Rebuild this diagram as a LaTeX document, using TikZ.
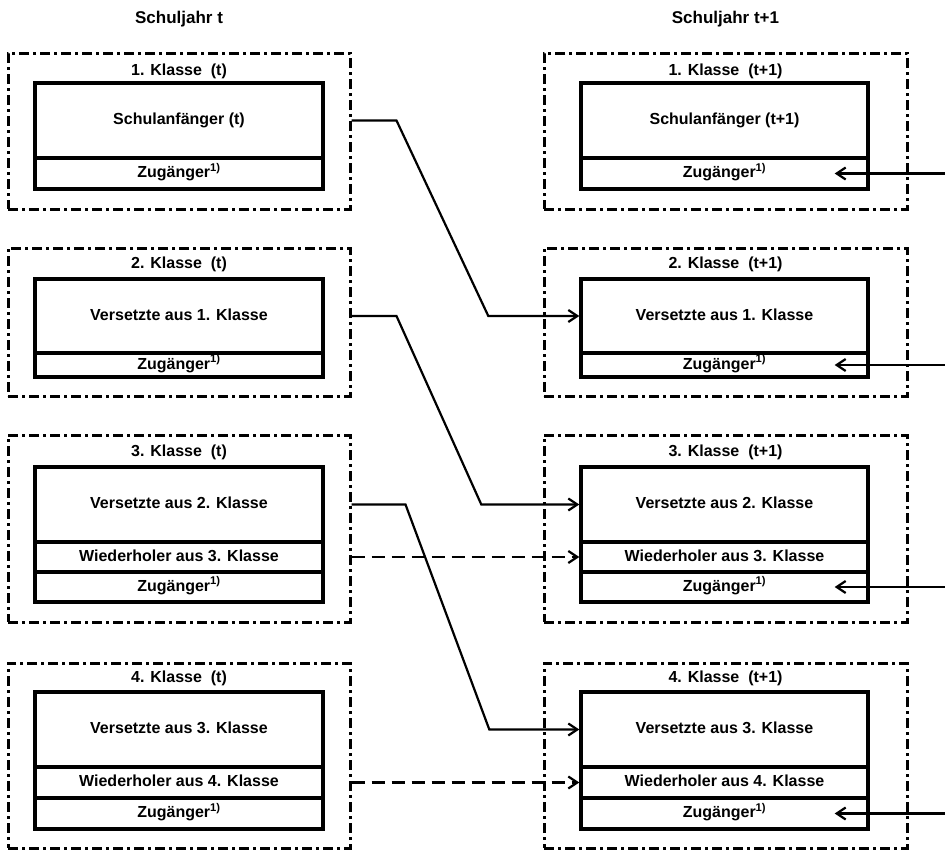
\documentclass[tikz,border=0pt]{standalone}
\usepackage{fontspec}
\setmainfont{Liberation Sans}
\usetikzlibrary{arrows.meta}

\tikzset{
  klasse/.style={draw, line width=3pt, dash pattern=on 10pt off 4pt on 3pt off 4pt, inner sep=0pt},
  teil/.style={draw, line width=3.4pt, inner sep=0pt, text height=11pt, text depth=3pt,
    font=\bfseries\fontsize{16}{19}\selectfont},
  titel/.style={font=\bfseries\fontsize{16}{19}\selectfont},
  kopf/.style={font=\bfseries\fontsize{17}{20}\selectfont},
  conn/.style={line width=2.2pt, -{Straight Barb[length=9pt,width=12pt,line width=2.2pt]}},
  wdh/.style={conn, dash pattern=on 13pt off 7pt}
}

\begin{document}
\begin{tikzpicture}[x=1pt, y=-1pt]
\useasboundingbox (0,0) rectangle (945,849);

\node[kopf] (St) at (179,19) {Schuljahr t};
\node[kopf] (Sn) at (725.5,19) {Schuljahr t+1};

\node[klasse, minimum width=342pt, minimum height=156pt] (O1t) at (179,131) {};
\node[klasse, minimum width=342pt, minimum height=148pt] (O2t) at (179,322) {};
\node[klasse, minimum width=342pt, minimum height=187pt] (O3t) at (179,528.5) {};
\node[klasse, minimum width=342pt, minimum height=185pt] (O4t) at (179,755.5) {};
\node[klasse, minimum width=363pt, minimum height=156pt] (O1n) at (725.5,131) {};
\node[klasse, minimum width=363pt, minimum height=148pt] (O2n) at (725.5,322) {};
\node[klasse, minimum width=363pt, minimum height=187pt] (O3n) at (725.5,528.5) {};
\node[klasse, minimum width=363pt, minimum height=185pt] (O4n) at (725.5,755.5) {};

\node[titel] (K1t) at (179,71) {1. Klasse~~(t)};
\node[titel] (K2t) at (179,264) {2. Klasse~~(t)};
\node[titel] (K3t) at (179,452) {3. Klasse~~(t)};
\node[titel] (K4t) at (179,678) {4. Klasse~~(t)};
\node[titel] (K1n) at (725.5,71) {1. Klasse~~(t+1)};
\node[titel] (K2n) at (725.5,264) {2. Klasse~~(t+1)};
\node[titel] (K3n) at (725.5,452) {3. Klasse~~(t+1)};
\node[titel] (K4n) at (725.5,678) {4. Klasse~~(t+1)};

\node[teil, minimum width=288pt, minimum height=75pt] (M1t) at (179,120.5) {Schulanfänger (t)};
\node[teil, minimum width=288pt, minimum height=31pt] (Z1t) at (179,173.5) {Zugänger\textsuperscript{1)}};
\node[teil, minimum width=288pt, minimum height=74pt] (M2t) at (179,316) {Versetzte aus 1. Klasse};
\node[teil, minimum width=288pt, minimum height=24pt] (Z2t) at (179,365) {Zugänger\textsuperscript{1)}};
\node[teil, minimum width=288pt, minimum height=75pt] (M3t) at (179,504.5) {Versetzte aus 2. Klasse};
\node[teil, minimum width=288pt, minimum height=30pt] (W3t) at (179,557) {Wiederholer aus 3. Klasse};
\node[teil, minimum width=288pt, minimum height=30pt] (Z3t) at (179,587) {Zugänger\textsuperscript{1)}};
\node[teil, minimum width=288pt, minimum height=75pt] (M4t) at (179,729.5) {Versetzte aus 3. Klasse};
\node[teil, minimum width=288pt, minimum height=31pt] (W4t) at (179,782.5) {Wiederholer aus 4. Klasse};
\node[teil, minimum width=288pt, minimum height=31pt] (Z4t) at (179,813.5) {Zugänger\textsuperscript{1)}};

\node[teil, minimum width=287pt, minimum height=75pt] (M1n) at (724.5,120.5) {Schulanfänger (t+1)};
\node[teil, minimum width=287pt, minimum height=31pt] (Z1n) at (724.5,173.5) {Zugänger\textsuperscript{1)}};
\node[teil, minimum width=287pt, minimum height=74pt] (M2n) at (724.5,316) {Versetzte aus 1. Klasse};
\node[teil, minimum width=287pt, minimum height=24pt] (Z2n) at (724.5,365) {Zugänger\textsuperscript{1)}};
\node[teil, minimum width=287pt, minimum height=75pt] (M3n) at (724.5,504.5) {Versetzte aus 2. Klasse};
\node[teil, minimum width=287pt, minimum height=30pt] (W3n) at (724.5,557) {Wiederholer aus 3. Klasse};
\node[teil, minimum width=287pt, minimum height=30pt] (Z3n) at (724.5,587) {Zugänger\textsuperscript{1)}};
\node[teil, minimum width=287pt, minimum height=75pt] (M4n) at (724.5,729.5) {Versetzte aus 3. Klasse};
\node[teil, minimum width=287pt, minimum height=31pt] (W4n) at (724.5,782.5) {Wiederholer aus 4. Klasse};
\node[teil, minimum width=287pt, minimum height=31pt] (Z4n) at (724.5,813.5) {Zugänger\textsuperscript{1)}};

\draw[conn] (O1t.east |- M1t.east) -- ++(45,0) -- ([xshift=-91pt]M2n.west) -- (M2n.west);
\draw[conn] (O2t.east |- M2t.east) -- ++(45,0) -- ([xshift=-98pt]M3n.west) -- (M3n.west);
\draw[conn] (O3t.east |- M3t.east) -- ++(54,0) -- ([xshift=-90pt]M4n.west) -- (M4n.west);
\draw[wdh] (O3t.east |- W3t.east) -- (W3n.west);
\draw[wdh] (O4t.east |- W4t.east) -- (W4n.west);

\coordinate (e1) at ([xshift=77pt]Z1n.east);
\coordinate (e2) at ([xshift=77pt]Z2n.east);
\coordinate (e3) at ([xshift=77pt]Z3n.east);
\coordinate (e4) at ([xshift=77pt]Z4n.east);
\draw[conn] (e1) -- ([xshift=-35pt]Z1n.east);
\draw[conn] (e2) -- ([xshift=-35pt]Z2n.east);
\draw[conn] (e3) -- ([xshift=-35pt]Z3n.east);
\draw[conn] (e4) -- ([xshift=-35pt]Z4n.east);
\end{tikzpicture}
\end{document}
